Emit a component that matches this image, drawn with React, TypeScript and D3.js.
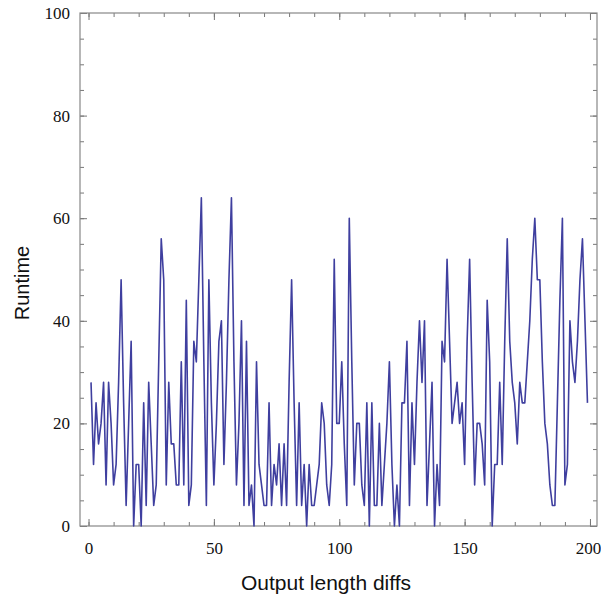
import React, { useEffect, useRef } from 'react'
import * as d3 from 'd3'

// runtime per output length diff, index 1..n
const runtimes = [
  28, 12, 24, 16, 20, 28, 8, 28, 20, 8, 12, 28, 48, 24, 4, 20, 36, 0, 12, 12, 0,
  24, 4, 28, 16, 4, 8, 32, 56, 48, 8, 28, 16, 16, 8, 8, 32, 8, 44, 4, 8, 36, 32, 48, 64,
  32, 4, 48, 24, 8, 20, 36, 40, 12, 28, 48, 64, 32, 8, 20, 40, 4, 36, 4, 8, 0, 32, 12, 8, 4, 4, 24,
  4, 12, 8, 16, 4, 16, 4, 28, 48, 24, 4, 24, 4, 12, 0, 12, 4, 4, 8, 12, 24, 20, 8, 4,
  12, 52, 20, 20, 32, 16, 4, 60, 32, 8, 20, 20, 8, 4, 24, 0, 24, 4, 4, 20, 4, 12, 20, 32, 12, 0,
  8, 0, 24, 24, 36, 4, 24, 12, 28, 40, 28, 40, 4, 16, 28, 0, 12, 4, 36, 32, 52, 36, 20,
  24, 28, 20, 24, 12, 36, 52, 28, 8, 20, 20, 16, 8, 44, 32, 0, 12, 12, 28, 12, 36, 56, 36, 28, 24, 16,
  28, 24, 24, 32, 40, 52, 60, 48, 48, 32, 20, 16, 8, 4, 4, 24, 44, 60, 8, 12, 40, 32, 28,
  36, 48, 56, 40, 24,
]
const xTicks = [0, 50, 100, 150, 200]
const yTicks = [0, 20, 40, 60, 80, 100]
const xMinor = d3.range(0, 201, 10)
const yMinor = d3.range(0, 101, 5)

export default function App() {
  const ref = useRef<SVGSVGElement>(null)

  useEffect(() => {
    const svg = d3.select(ref.current)
    svg.selectAll('*').remove()

    const left = 80, right = 597, top = 13, bottom = 526
    const x = d3.scaleLinear().domain([-3.4, 202.8]).range([left, right])
    const y = d3.scaleLinear().domain([0, 100]).range([bottom, top])

    const tickColor = '#777'
    // frame ticks, all four sides, pointing inward
    const drawAxis = (axis: any, tx: number, ty: number, labels: boolean) => {
      const g = svg.append('g').attr('transform', `translate(${tx},${ty})`).call(axis)
      g.select('.domain').remove()
      g.selectAll('line').attr('stroke', tickColor)
      if (!labels) g.selectAll('text').remove()
      return g
    }
    drawAxis(d3.axisBottom(x).tickValues(xMinor).tickSize(-4), 0, bottom, false)
    drawAxis(d3.axisTop(x).tickValues(xMinor).tickSize(-4), 0, top, false)
    drawAxis(d3.axisLeft(y).tickValues(yMinor).tickSize(-4), left, 0, false)
    drawAxis(d3.axisRight(y).tickValues(yMinor).tickSize(-4), right, 0, false)
    drawAxis(d3.axisTop(x).tickValues(xTicks).tickSize(-7), 0, top, false)
    drawAxis(d3.axisRight(y).tickValues(yTicks).tickSize(-7), right, 0, false)

    const gx = drawAxis(d3.axisBottom(x).tickValues(xTicks).tickSize(-7).tickPadding(16), 0, bottom, true)
    gx.selectAll('text')
      .attr('font-family', '"Liberation Serif", "Times New Roman", serif')
      .attr('font-size', 17)
      .attr('fill', '#111')
      .attr('dx', (d: any) => (d === 200 ? -2 : 0))
    const gy = drawAxis(d3.axisLeft(y).tickValues(yTicks).tickSize(-7).tickPadding(10), left, 0, true)
    gy.selectAll('text')
      .attr('font-family', '"Liberation Serif", "Times New Roman", serif')
      .attr('font-size', 17)
      .attr('fill', '#111')

    svg.append('rect')
      .attr('x', left).attr('y', top)
      .attr('width', right - left).attr('height', bottom - top)
      .attr('fill', 'none').attr('stroke', '#888').attr('stroke-width', 1.2)

    const line = d3.line<number>()
      .x((d, i) => x(i + 1))
      .y(d => y(d))
    svg.append('path')
      .datum(runtimes)
      .attr('d', line)
      .attr('fill', 'none')
      .attr('stroke', '#3f3f9f')
      .attr('stroke-width', 1.6)
      .attr('stroke-linejoin', 'round')

    svg.append('text')
      .attr('x', 326)
      .attr('y', 590)
      .attr('text-anchor', 'middle')
      .attr('font-family', '"Liberation Sans", Arial, sans-serif')
      .attr('font-size', 21)
      .attr('fill', '#111')
      .text('Output length diffs')

    svg.append('text')
      .attr('transform', 'translate(29,283) rotate(-90)')
      .attr('text-anchor', 'middle')
      .attr('font-family', '"Liberation Sans", Arial, sans-serif')
      .attr('font-size', 20)
      .attr('fill', '#111')
      .text('Runtime')
  }, [])

  return (
    <svg ref={ref} width={601} height={597}
      style={{ position: 'absolute', left: 0, top: 0, background: '#fff' }} />
  )
}
